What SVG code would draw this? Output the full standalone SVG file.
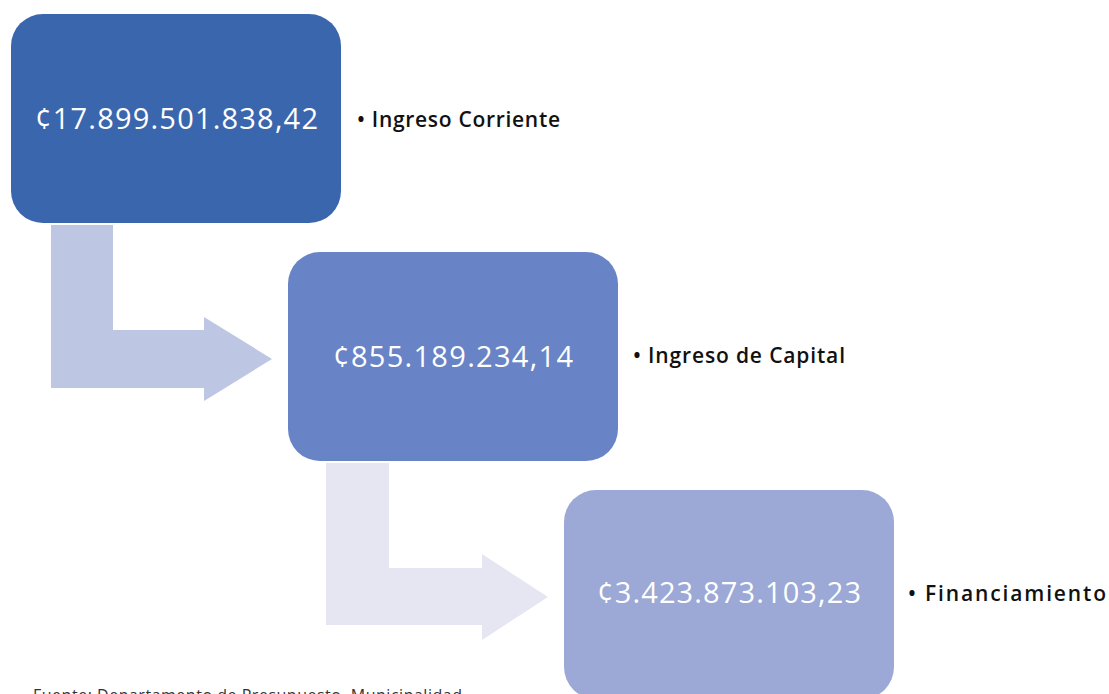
<svg xmlns="http://www.w3.org/2000/svg" width="1109" height="694" viewBox="0 0 1109 694">
<style>
.num{font-family:"Open Sans","DejaVu Sans",sans-serif;font-size:29px;fill:#ffffff}
.lbl{font-family:"Open Sans","Liberation Sans",sans-serif;font-size:21px;font-weight:600;fill:#111111}
.src{font-family:"Open Sans","Liberation Sans",sans-serif;font-size:16px;fill:#333333}
</style>
<rect width="1109" height="694" fill="#ffffff"/>
<g id="connectors">
<path id="arrow1" d="M51,225 H113 V330 H204 V317 L272,359 L204,401 V388 H51 Z" fill="#BDC7E3"/>
<path id="arrow2" d="M326,463 H389 V568 H482 V554 L548,597 L482,640 V625 H326 Z" fill="#E5E6F2"/>
</g>
<g id="node1">
<rect x="11" y="14" width="330" height="209" rx="32" fill="#3A66AE"/>
<text class="num" x="35" y="129" textLength="283" lengthAdjust="spacing">¢17.899.501.838,42</text>
<text class="lbl" x="357" y="127" textLength="203" lengthAdjust="spacing">• Ingreso Corriente</text>
</g>
<g id="node2">
<rect x="288" y="252" width="330" height="209" rx="32" fill="#6884C6"/>
<text class="num" x="333" y="367" textLength="240" lengthAdjust="spacing">¢855.189.234,14</text>
<text class="lbl" x="633" y="363" textLength="212" lengthAdjust="spacing">• Ingreso de Capital</text>
</g>
<g id="node3">
<rect x="564" y="490" width="330" height="209" rx="32" fill="#9CA8D6"/>
<text class="num" x="597" y="603" textLength="264" lengthAdjust="spacing">¢3.423.873.103,23</text>
<text class="lbl" x="908" y="601" textLength="198" lengthAdjust="spacing">• Financiamiento</text>
</g>
<text class="src" x="33" y="701" textLength="429" lengthAdjust="spacing">Fuente: Departamento de Presupuesto, Municipalidad</text>
</svg>
